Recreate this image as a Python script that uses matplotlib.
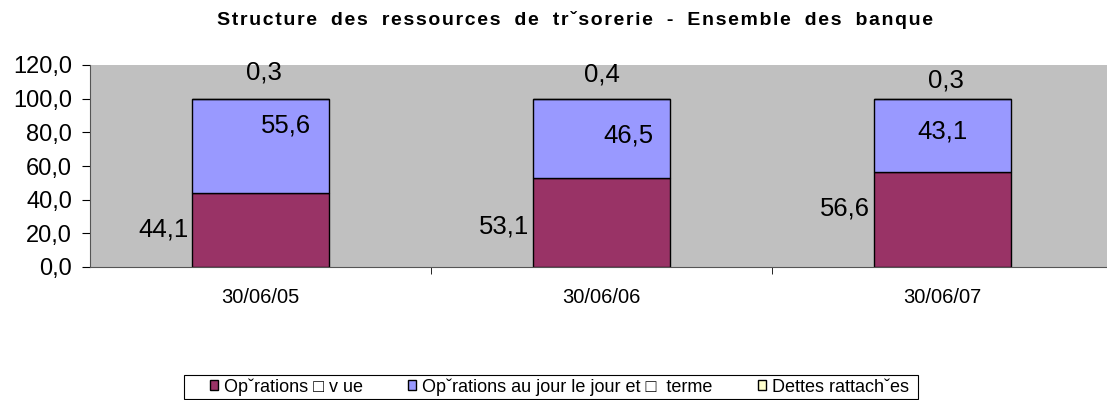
import numpy as np
import matplotlib.pyplot as plt
from matplotlib.patches import Rectangle

plt.rcParams['font.family'] = ['Liberation Sans', 'DejaVu Sans']

dates = ['30/06/05', '30/06/06', '30/06/07']
vue = [44.1, 53.1, 56.6]
terme = [55.6, 46.5, 43.1]
dettes = [0.3, 0.4, 0.3]
noms = ['Op\u02c7rations \u25a1 v ue', 'Op\u02c7rations au jour le jour et \u25a1  terme', 'Dettes rattach\u02c7es']
couleurs = ['#993366', '#9999ff', '#ffffcc']

# label placement: (height in data units, x offset in category units)
pos_vue = [22.0, 23.8, 34.5]
pos_terme = [(83.8, 0.076), (78.1, 0.08), (80.2, 0.0)]
pos_dettes = [(115.8, 0.01), (114.6, 0.0), (111.0, 0.01)]

fig = plt.figure(figsize=(11.07, 4.0), dpi=100)
ax = fig.add_axes([90 / 1107, 133 / 400, 1023 / 1107, 202 / 400])
ax.set_facecolor('#c0c0c0')

x = np.arange(len(dates))
w = 0.40
b1 = ax.bar(x, vue, w, color=couleurs[0], edgecolor='black', linewidth=1, label=noms[0])
b2 = ax.bar(x, terme, w, bottom=vue, color=couleurs[1], edgecolor='black', linewidth=1, label=noms[1])
bot = np.array(vue) + np.array(terme)
b3 = ax.bar(x, dettes, w, bottom=bot, color=couleurs[2], edgecolor='black', linewidth=1, label=noms[2])

fmt = lambda v: f'{v:.1f}'.replace('.', ',')
for i in range(len(dates)):
    ax.text(x[i] - w / 2 - 0.012, pos_vue[i], fmt(vue[i]), ha='right', va='center', fontsize=18.5)
    yy, dx = pos_terme[i]
    ax.text(x[i] + dx, yy, fmt(terme[i]), ha='center', va='center', fontsize=18.5)
    yy, dx = pos_dettes[i]
    ax.text(x[i] + dx, yy, fmt(dettes[i]), ha='center', va='center', fontsize=18.5)

ax.set_xlim(-0.5, 2.5)
ax.set_ylim(0, 120)
ax.set_yticks(np.arange(0, 121, 20))
ax.set_yticklabels([fmt(v) for v in np.arange(0, 121, 20)], fontsize=17)
ax.set_xticks(x)
ax.set_xticklabels(dates, fontsize=14.5)
ax.tick_params(axis='x', length=0, pad=15)
ax.set_xticks([0.5, 1.5], minor=True)
ax.tick_params(axis='x', which='minor', length=5, direction='out')
ax.tick_params(axis='y', length=6, direction='out', pad=7)
for s in ['top', 'right']:
    ax.spines[s].set_visible(False)
ax.spines['left'].set_color('#555555')
ax.spines['bottom'].set_color('#555555')

titre = 'Structure des ressources de tr\u02c7sorerie - Ensemble des banque'
titre = '\u200a'.join(titre).replace(' ', '  ')
fig.text(0.519, 0.95, titre, ha='center', va='center', fontsize=14, fontweight='bold')

# legend frame
fig.patches.append(Rectangle((184 / 1107, 1 / 400), 734 / 1107, 24 / 400, transform=fig.transFigure,
                             facecolor='white', edgecolor='black', linewidth=0.8))
leg = fig.legend(handles=[b1, b2, b3], loc='center left', bbox_to_anchor=(210 / 1107, 13 / 400),
                 ncol=3, fontsize=13, frameon=False,
                 handlelength=0.45, handleheight=0.45, handletextpad=0.33, columnspacing=2.5,
                 borderpad=0, borderaxespad=0)

fig.savefig('out.png', dpi=100)
